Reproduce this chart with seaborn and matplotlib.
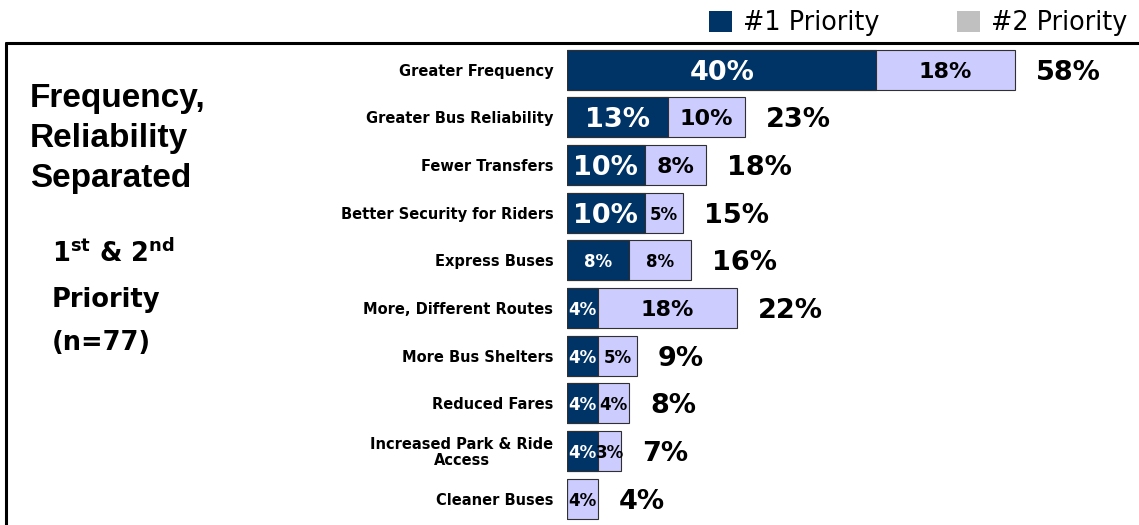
import matplotlib
matplotlib.use("Agg")
import matplotlib.pyplot as plt
import seaborn as sns
import pandas as pd
from matplotlib.patches import Patch
from matplotlib.lines import Line2D

categories = [
    "Greater Frequency",
    "Greater Bus Reliability",
    "Fewer Transfers",
    "Better Security for Riders",
    "Express Buses",
    "More, Different Routes",
    "More Bus Shelters",
    "Reduced Fares",
    "Increased Park & Ride\nAccess",
    "Cleaner Buses",
]
first_priority = [40, 13, 10, 10, 8, 4, 4, 4, 4, 0]
second_priority = [18, 10, 8, 5, 8, 18, 5, 4, 3, 4]

# tamanhos dos rótulos dentro das barras (estilo)
first_label_sizes = [19.5, 19.5, 19.5, 19.5, 12, 12, 12, 12, 12, 12]
second_label_sizes = [16, 16, 16, 12, 12, 16, 12, 12, 12, 12]

NAVY = "#003366"
LAVENDER = "#CCCCFF"
EDGE = "#303030"

df = pd.DataFrame({"category": categories, "first": first_priority, "second": second_priority})
df["total"] = df["first"] + df["second"]

sns.set_style("white", {"text.color": "black", "ytick.color": "black",
                        "axes.labelcolor": "black"})
W, H = 1139, 525
fig = plt.figure(figsize=(W / 100, H / 100), dpi=100)
ax = fig.add_axes([567.3 / W, 2.5 / H, 571.3 / W, 476.7 / H])

sns.barplot(data=df, y="category", x="total", color=LAVENDER, saturation=1,
            edgecolor=EDGE, linewidth=0.8, width=0.84, orient="h", ax=ax)
sns.barplot(data=df, y="category", x="first", color=NAVY, saturation=1,
            edgecolor=EDGE, linewidth=0.8, width=0.84, orient="h", ax=ax)

ax.set_xlim(0, 74)
ax.set_ylim(9.5, -0.5)
ax.set_xlabel("")
ax.set_ylabel("")
ax.set_xticks([])
ax.set_yticks(range(len(categories)))
ax.set_yticklabels(categories, fontsize=10.5, fontweight="bold", color="black",
                   multialignment="center", linespacing=1.05)
ax.tick_params(axis="y", length=0, pad=10)
for s in ax.spines.values():
    s.set_visible(False)

for i, row in df.iterrows():
    if row["first"] > 0:
        ax.text(row["first"] / 2, i, f"{row['first']}%", color="white", ha="center",
                va="center_baseline", fontsize=first_label_sizes[i], fontweight="bold")
    ax.text(row["first"] + row["second"] / 2, i, f"{row['second']}%", color="black",
            ha="center", va="center_baseline", fontsize=second_label_sizes[i], fontweight="bold")
    ax.annotate(f"{row['total']}%", xy=(row["total"], i), xytext=(15, 0),
                textcoords="offset points", ha="left", va="center_baseline",
                fontsize=19.5, fontweight="bold", color="black")

# texto à esquerda
for txt, base in zip(["Frequency,", "Reliability", "Separated"], [107, 147, 187]):
    fig.text(30 / W, 1 - base / H, txt, family="Liberation Sans", fontweight="bold",
             fontsize=24, va="baseline", ha="left", color="black")
for txt, base in zip([r"1$^{\mathbf{st}}$ & 2$^{\mathbf{nd}}$", "Priority", "(n=77)"], [262, 307, 350]):
    fig.text(52 / W, 1 - base / H, txt, fontweight="bold", fontsize=18.5,
             va="baseline", ha="left", color="black")

handles = [Patch(facecolor=NAVY, edgecolor="none", label="#1 Priority"),
           Patch(facecolor="#C0C0C0", edgecolor="none", label="#2 Priority")]
fig.legend(handles=handles, loc="upper right", bbox_to_anchor=(1127 / W, 1 - 10.3 / H),
           ncol=2, frameon=False, fontsize=18.4, handlelength=0.9, handleheight=0.9,
           handletextpad=0.43, columnspacing=3.0, borderpad=0, borderaxespad=0,
           labelcolor="black")

# moldura
y_top = 1 - 43.3 / H
fig.add_artist(Line2D([6 / W, 1], [y_top, y_top], color="black", linewidth=2.2,
                      transform=fig.transFigure))
fig.add_artist(Line2D([6 / W, 6 / W], [y_top, 0], color="black", linewidth=2.2,
                      transform=fig.transFigure))

fig.savefig("out.png", dpi=100)
plt.close()
